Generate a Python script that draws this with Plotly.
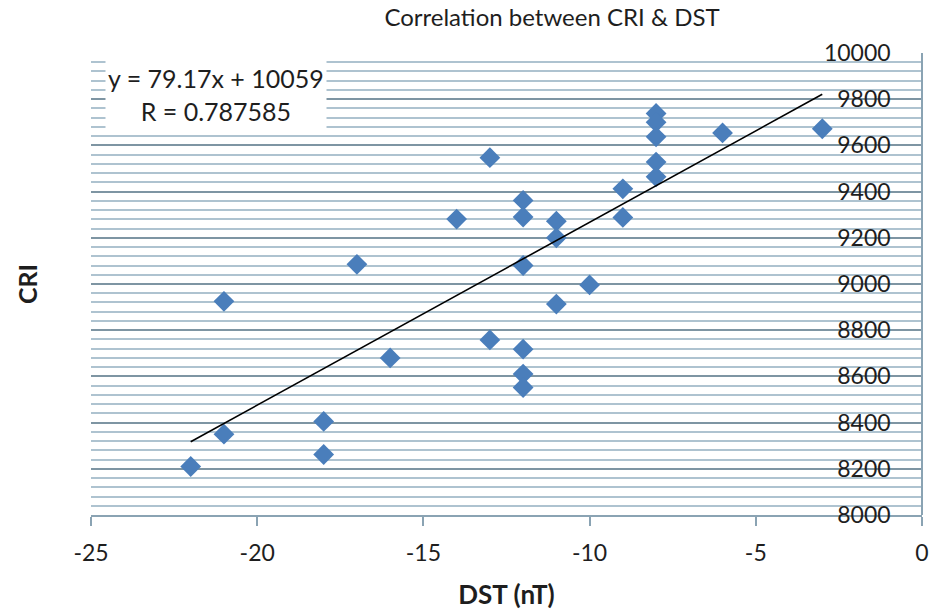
import numpy as np
import plotly.graph_objects as go

# Data
dst = [-22, -21, -21, -18, -18, -17, -16, -14, -13, -13,
       -12, -12, -12, -12, -12, -12, -11, -11, -11, -10,
       -9, -9, -8, -8, -8, -8, -8, -6, -3]
cri = [8210, 8350, 8925, 8405, 8262, 9085, 8680, 9281, 9547, 8758,
       9362, 9290, 9080, 8718, 8610, 8552, 9272, 9200, 8913, 8996,
       9412, 9288, 9738, 9700, 9637, 9528, 9464, 9654, 9672]

slope = 79.17
intercept = 10059
r_value = 0.787585

x_ticks = [-25, -20, -15, -10, -5, 0]
x_tick_labels = ["-25", "-20", "-15", "-10", "-5", "0"]
y_ticks = [8000, 8200, 8400, 8600, 8800, 9000, 9200, 9400, 9600, 9800, 10000]
y_tick_labels = [str(v) for v in y_ticks]

FONT = "Lato"
TXT = "#1e1e1e"

trend_x = [min(dst), max(dst)]
trend_y = [slope * v + intercept for v in trend_x]

fig = go.Figure()
fig.add_trace(go.Scatter(
    x=dst, y=cri, mode="markers",
    marker=dict(symbol="diamond", size=16, color="#4a7ebb"),
    showlegend=False, hoverinfo="x+y"))
fig.add_trace(go.Scatter(
    x=trend_x, y=trend_y, mode="lines",
    line=dict(color="black", width=1.6), showlegend=False))

fig.update_layout(
    width=934, height=614,
    margin=dict(l=91, r=12, t=53, b=99, autoexpand=False),
    paper_bgcolor="white", plot_bgcolor="white",
    font=dict(family=FONT, color=TXT),
    title=dict(text="Correlation between CRI & DST", x=0.591, xanchor="center",
               y=0.972, yanchor="middle", font=dict(family=FONT, size=24, color=TXT)),
    xaxis=dict(range=[-25, 0], tickvals=x_ticks, ticktext=x_tick_labels,
               showgrid=False, zeroline=False, automargin=False,
               showline=True, linecolor="#8aa3b3", linewidth=1.5,
               ticks="outside", ticklen=9, tickcolor="#8aa3b3", tickwidth=1.5,
               tickfont=dict(size=23, color=TXT), ticklabelstandoff=8,
               title=dict(text="<b>DST (nT)</b>", font=dict(size=26, color=TXT), standoff=20)),
    yaxis=dict(range=[8000, 10000], tickvals=y_ticks, ticktext=y_tick_labels,
               side="left", anchor="free", position=1.0, automargin=False,
               ticklabelstandoff=26,
               showgrid=True, gridcolor="#7e95a3", gridwidth=1.5,
               zeroline=False, showline=True, linecolor="#8aa3b3", linewidth=1.5,
               ticks="", tickfont=dict(size=23, color=TXT),
               minor=dict(dtick=40, showgrid=True, gridcolor="#aec3d0", gridwidth=1.5),
               ),
)

fig.add_annotation(text="<b>CRI</b>", xref="paper", yref="paper", x=-0.077, y=0.5,
                   textangle=-90, showarrow=False, font=dict(size=25, color=TXT),
                   xanchor="center", yanchor="middle")

fig.add_annotation(
    text=f"y = {slope}x + {intercept}<br>R = {r_value}",
    xref="paper", yref="paper", x=0.017, y=0.985, xanchor="left", yanchor="top",
    showarrow=False, align="center", bgcolor="white",
    font=dict(size=25, color=TXT), borderpad=2)

fig.write_html("out.html")
